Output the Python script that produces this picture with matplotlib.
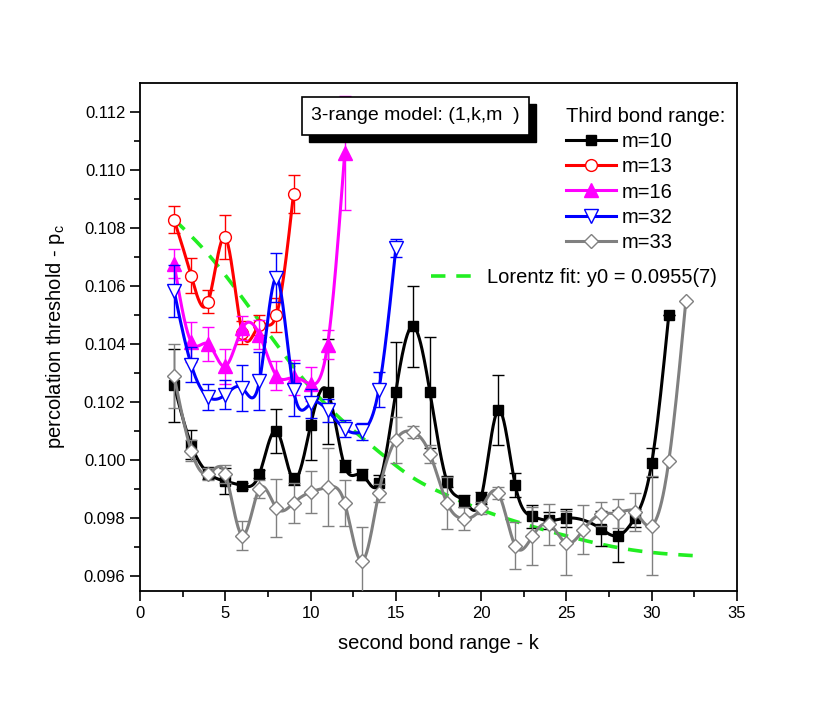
import numpy as np
import matplotlib
matplotlib.use("Agg")
import matplotlib.pyplot as plt
from matplotlib.lines import Line2D
from matplotlib.patches import Rectangle

plt.rcParams['font.family'] = ['Liberation Sans', 'DejaVu Sans']

# ---------------- data ----------------
k10 = [2, 3, 4, 5, 6, 7, 8, 9, 10, 11, 12, 13, 14, 15, 16, 17, 18, 19, 20, 21,
       22, 23, 24, 25, 27, 28, 29, 30, 31]
p10 = [0.10258, 0.10054, 0.09956, 0.09928, 0.09913, 0.09953, 0.10102, 0.09935,
       0.10121, 0.10237, 0.09980, 0.09951, 0.09921, 0.10237, 0.10462, 0.10234,
       0.09927, 0.09861, 0.09871, 0.10174, 0.09915, 0.09807, 0.09793, 0.09801,
       0.09765, 0.09740, 0.09801, 0.09991, 0.10500]
e10 = [0.00127, 0.0005, 0.0002, 0.00045, 0.0001, 0.00015, 0.00075, 0.0002,
       0.0012, 0.0018, 0.0002, 0.0002, 0.0003, 0.0017, 0.0014, 0.0019, 0.0002,
       0.0002, 0.0002, 0.0012, 0.0004, 0.0004, 0.0003, 0.0003, 0.0006, 0.0009,
       0.0003, 0.0005, 0.0]

k13 = [2, 3, 4, 5, 6, 7, 8, 9]
p13 = [0.10829, 0.10636, 0.10547, 0.10768, 0.10440, 0.10466, 0.10501, 0.10918]
e13 = [0.00047, 0.0006, 0.0004, 0.00076, 0.0004, 0.00035, 0.0006, 0.00065]

k16 = [2, 3, 4, 5, 6, 7, 8, 9, 10, 11, 12]
p16 = [0.10677, 0.10408, 0.10401, 0.10324, 0.10456, 0.10433, 0.10292, 0.10286,
       0.10263, 0.10399, 0.11058]
e16 = [0.0005, 0.0007, 0.0006, 0.0006, 0.0004, 0.0005, 0.0005, 0.0006, 0.0006,
       0.0005, 0.00197]

k32 = [2, 3, 4, 5, 6, 7, 8, 9, 10, 11, 12, 13, 14, 15]
p32 = [0.10583, 0.10330, 0.10218, 0.10226, 0.10249, 0.10272, 0.10629, 0.10244,
       0.10196, 0.10172, 0.10109, 0.10100, 0.10244, 0.10732]
e32 = [0.0009, 0.0006, 0.00045, 0.0005, 0.0008, 0.001, 0.00085, 0.0009, 0.0005,
       0.0004, 0.0003, 0.0003, 0.0006, 0.0003]

k33 = list(range(2, 33))
p33 = [0.10290, 0.10034, 0.09953, 0.09953, 0.09741, 0.09902, 0.09836, 0.09853,
       0.09891, 0.09907, 0.09853, 0.09652, 0.09888, 0.10071, 0.10098, 0.10022,
       0.09853, 0.09799, 0.09836, 0.09887, 0.09706, 0.09738, 0.09780, 0.09715,
       0.09761, 0.09815, 0.09818, 0.09822, 0.09775, 0.09997, 0.10548]
e33 = [0.0011, 0.00035, 0.0002, 0.0003, 0.0005, 0.0003, 0.001, 0.0007, 0.00073,
       0.00134, 0.0008, 0.0012, 0.0003, 0.0008, 0.0002, 0.0003, 0.0009, 0.0004,
       0.0002, 0.0002, 0.0008, 0.001, 0.0007, 0.0011, 0.00085, 0.0004, 0.0005,
       0.00066, 0.0017, 0.0, 0.0]

fit_k = [2, 4, 6, 8, 10, 12, 14, 16, 18, 20, 22, 25, 29, 33]
fit_p = [0.1083, 0.1071, 0.1056, 0.1040, 0.1025, 0.1013, 0.1003, 0.0994,
         0.0988, 0.0983, 0.0979, 0.0974, 0.0969, 0.0967]

labels = ["m=10", "m=13", "m=16", "m=32", "m=33"]
legend_title = "Third bond range:"
fit_label = "Lorentz fit: y0 = 0.0955(7)"
box_text = "3-range model: (1,k,m  )"
xlabel = "second bond range - k"
ylabel = "percolation threshold - p$_\\mathregular{c}$"
xticks = [0, 5, 10, 15, 20, 25, 30, 35]
yticks = [0.096, 0.098, 0.100, 0.102, 0.104, 0.106, 0.108, 0.110, 0.112]


def smooth(x, y, n=24):
    """Natural cubic spline connection (Origin-style 'spline' line)."""
    x = np.asarray(x, float)
    y = np.asarray(y, float)
    m = len(x)
    h = np.diff(x)
    A = np.zeros((m, m))
    b = np.zeros(m)
    A[0, 0] = 1.0
    A[-1, -1] = 1.0
    for i in range(1, m - 1):
        A[i, i - 1] = h[i - 1]
        A[i, i] = 2 * (h[i - 1] + h[i])
        A[i, i + 1] = h[i]
        b[i] = 3 * ((y[i + 1] - y[i]) / h[i] - (y[i] - y[i - 1]) / h[i - 1])
    c = np.linalg.solve(A, b)
    xs, ys = [], []
    for i in range(m - 1):
        t = np.linspace(0, h[i], n, endpoint=(i == m - 2))
        bi = (y[i + 1] - y[i]) / h[i] - h[i] * (2 * c[i] + c[i + 1]) / 3
        di = (c[i + 1] - c[i]) / (3 * h[i])
        xs.append(x[i] + t)
        ys.append(y[i] + bi * t + c[i] * t ** 2 + di * t ** 3)
    return np.concatenate(xs), np.concatenate(ys)


fig = plt.figure(figsize=(8.3, 7.02), dpi=100)
ax = fig.add_axes([140 / 830, 1 - 591 / 702, 597 / 830, 508 / 702])

series = [
    (k10, p10, e10, "black", "s", "black", 7.5),
    (k13, p13, e13, "#FF0000", "o", "white", 8.5),
    (k16, p16, e16, "#FF00FF", "^", "#FF00FF", 9.5),
    (k32, p32, e32, "#0000FF", "v", "white", 9.5),
    (k33, p33, e33, "#808080", "D", "white", 7.5),
]

# Lorentz fit
fx, fy = smooth(fit_k, fit_p)
ax.plot(fx, fy, color="#22EE22", lw=2.6, dashes=(4, 3), zorder=2)

handles = []
for i, (kk, pp, ee, col, mk, fc, ms) in enumerate(series):
    sx, sy = smooth(kk, pp)
    ax.plot(sx, sy, color=col, lw=2.2, zorder=3 + i)
    ax.errorbar(kk, pp, yerr=ee, fmt="none", ecolor=col, elinewidth=1.0,
                capsize=4, capthick=1.0, zorder=3 + i)
    ax.plot(kk, pp, linestyle="none", marker=mk, ms=ms, mfc=fc, mec=col,
            mew=1.0, zorder=3.5 + i)
    handles.append(Line2D([], [], color=col, lw=2.2, marker=mk, ms=ms,
                          mfc=fc, mec=col, mew=1.0))

ax.set_xlim(0, 35)
ax.set_ylim(0.0955, 0.113)
ax.set_xticks(xticks)
ax.set_xticks(np.arange(2.5, 35, 5), minor=True)
ax.set_yticks(yticks)
ax.set_yticks(np.arange(0.097, 0.1125, 0.002), minor=True)
ax.yaxis.set_major_formatter(matplotlib.ticker.FormatStrFormatter("%.3f"))
ax.tick_params(which="both", direction="out", top=False, right=False,
               labelsize=12, width=1.2)
ax.tick_params(which="major", length=7)
ax.tick_params(which="minor", length=4)
for s in ax.spines.values():
    s.set_linewidth(1.3)

ax.set_xlabel(xlabel, fontsize=14.5, labelpad=10)
ax.set_ylabel(ylabel, fontsize=14.5, labelpad=12)

leg = ax.legend(handles, labels, title=legend_title, loc="upper left",
                bbox_to_anchor=(0.713, 0.952), frameon=False, fontsize=14.5,
                title_fontsize=14.5, handlelength=2.5, handletextpad=0.3,
                labelspacing=0.3, borderpad=0, borderaxespad=0,
                alignment="left")
ax.add_artist(leg)

fit_handle = Line2D([], [], color="#22EE22", lw=2.6, dashes=(4, 3))
leg2 = ax.legend([fit_handle], [fit_label], loc="center left",
                 bbox_to_anchor=(0.487, 0.618), frameon=False, fontsize=14.5,
                 handlelength=2.5, handletextpad=0.3, borderpad=0,
                 borderaxespad=0)

# text box with shadow
bx0, bx1 = (302 - 140) / 597, (529 - 140) / 597
by0, by1 = (591 - 135) / 508, (591 - 97) / 508
dx, dy = 7 / 597, 7 / 508
ax.add_patch(Rectangle((bx0 + dx, by0 - dy), bx1 - bx0, by1 - by0,
                       transform=ax.transAxes, facecolor="black",
                       edgecolor="black", zorder=20, clip_on=False))
ax.add_patch(Rectangle((bx0, by0), bx1 - bx0, by1 - by0,
                       transform=ax.transAxes, facecolor="white",
                       edgecolor="black", lw=1.2, zorder=21, clip_on=False))
ax.text((bx0 + bx1) / 2, (by0 + by1) / 2, box_text, transform=ax.transAxes,
        ha="center", va="center", fontsize=14, zorder=22)

fig.savefig("out.png", dpi=100)
